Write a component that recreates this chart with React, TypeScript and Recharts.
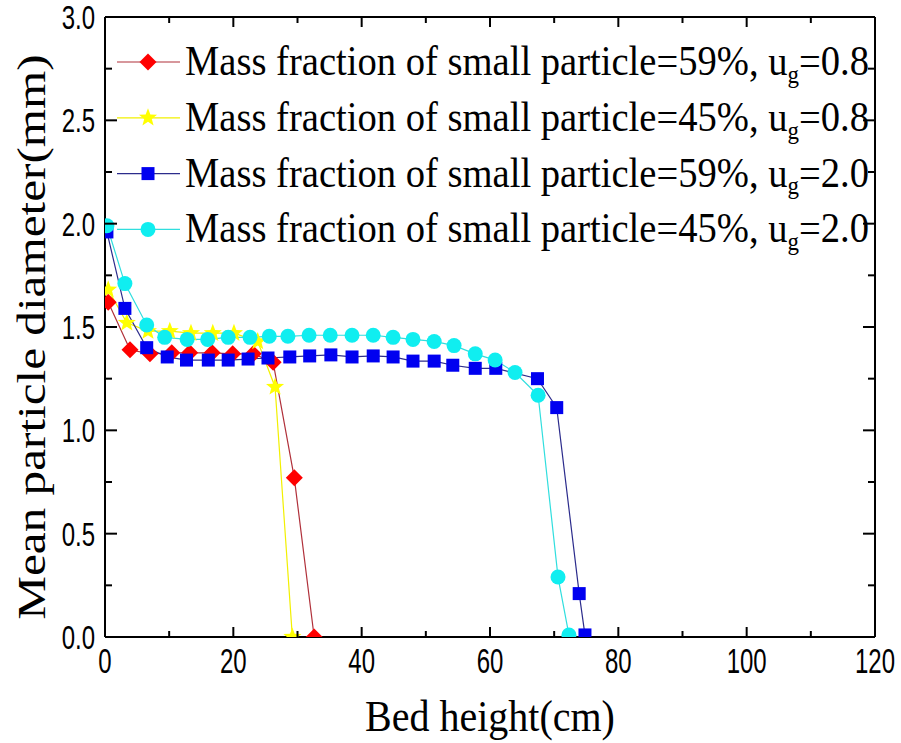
import React from "react";
import { LineChart, Line, XAxis, YAxis, Legend } from "recharts";

// bed height (cm) / mean particle diameter (mm)
const frac59Slow_x = [0.5, 3.9, 7.0, 10.4, 13.2, 16.7, 19.9, 23.1, 26.2, 29.5, 32.6];
const frac59Slow_y = [1.62, 1.39, 1.37, 1.375, 1.375, 1.375, 1.37, 1.37, 1.33, 0.77, 0.0];

const frac45Slow_x = [0.5, 3.4, 6.7, 10.1, 13.4, 16.8, 20.1, 23.8, 26.5, 29.2];
const frac45Slow_y = [1.68, 1.52, 1.48, 1.48, 1.47, 1.47, 1.47, 1.43, 1.21, 0.0];

const frac59Fast_x = [0.3, 3.1, 6.5, 9.7, 12.7, 16.1, 19.2, 22.3, 25.4, 28.8, 31.9, 35.2, 38.5, 41.8, 44.9, 48.0, 51.3, 54.2, 57.7, 60.9, 67.4, 70.4, 73.9, 74.8];
const frac59Fast_y = [1.96, 1.59, 1.4, 1.355, 1.34, 1.34, 1.34, 1.345, 1.35, 1.355, 1.36, 1.365, 1.355, 1.36, 1.355, 1.335, 1.335, 1.315, 1.3, 1.3, 1.25, 1.11, 0.21, 0.01];

const frac45Fast_x = [0.3, 3.1, 6.5, 9.3, 12.8, 16.0, 19.2, 22.6, 25.6, 28.5, 31.8, 35.1, 38.5, 41.8, 44.9, 48.0, 51.3, 54.4, 57.7, 60.8, 63.9, 67.5, 70.6, 72.3];
const frac45Fast_y = [1.99, 1.71, 1.51, 1.45, 1.44, 1.44, 1.45, 1.45, 1.455, 1.455, 1.46, 1.46, 1.46, 1.46, 1.45, 1.44, 1.43, 1.41, 1.37, 1.34, 1.28, 1.17, 0.29, 0.01];

const xTicks = [0, 10, 20, 30, 40, 50, 60, 70, 80, 90, 100, 110, 120];
const yTicks = [0, 0.25, 0.5, 0.75, 1, 1.25, 1.5, 1.75, 2, 2.25, 2.5, 2.75, 3];

const toPoints = (xs: number[], ys: number[]) => xs.map((x, i) => ({ x, y: ys[i] }));

type Shape = "diamond" | "star" | "square" | "circle";

const series = [
  { id: "a", pct: "59%", ug: "0.8", data: toPoints(frac59Slow_x, frac59Slow_y), stroke: "#b0303a", fill: "#ff0000", shape: "diamond" as Shape },
  { id: "b", pct: "45%", ug: "0.8", data: toPoints(frac45Slow_x, frac45Slow_y), stroke: "#f2f000", fill: "#ffff00", shape: "star" as Shape },
  { id: "c", pct: "59%", ug: "2.0", data: toPoints(frac59Fast_x, frac59Fast_y), stroke: "#2c2c8c", fill: "#0000f0", shape: "square" as Shape },
  { id: "d", pct: "45%", ug: "2.0", data: toPoints(frac45Fast_x, frac45Fast_y), stroke: "#30dede", fill: "#10eef0", shape: "circle" as Shape },
];

const SERIF = "'Liberation Serif', 'Times New Roman', serif";
const SANS = "'Liberation Sans', Arial, sans-serif";

function Marker({ shape, cx, cy, fill }: { shape: Shape; cx: number; cy: number; fill: string }) {
  if (shape === "diamond") {
    const r = 8.5;
    return <polygon points={`${cx},${cy - r} ${cx + r},${cy} ${cx},${cy + r} ${cx - r},${cy}`} fill={fill} />;
  }
  if (shape === "square") return <rect x={cx - 6.5} y={cy - 6.5} width={13} height={13} fill={fill} />;
  if (shape === "circle") return <circle cx={cx} cy={cy} r={7.5} fill={fill} />;
  const pts: string[] = [];
  for (let i = 0; i < 10; i++) {
    const r = i % 2 === 0 ? 9.5 : 4;
    const a = -Math.PI / 2 + (i * Math.PI) / 5;
    pts.push(`${cx + r * Math.cos(a)},${cy + r * Math.sin(a)}`);
  }
  return <polygon points={pts.join(" ")} fill={fill} />;
}

function SText({ x, y, size, family, sx = 1, sy = 1, rotate = 0, anchor = "start", children }: any) {
  return (
    <text
      transform={`translate(${x},${y}) rotate(${rotate}) scale(${sx},${sy})`}
      fontSize={size}
      fontFamily={family}
      textAnchor={anchor}
      fill="#000"
    >
      {children}
    </text>
  );
}

const BottomTick = ({ x, y, payload }: any) => {
  const major = payload.value % 20 === 0;
  return (
    <g>
      <line x1={x} y1={y} x2={x} y2={y - (major ? 10 : 6)} stroke="#000" strokeWidth={2} />
      {major && (
        <SText x={x} y={y + 36} size={30} family={SANS} sx={0.8} sy={1.15} anchor="middle">
          {payload.value}
        </SText>
      )}
    </g>
  );
};

const TopTick = ({ x, y, payload }: any) => {
  const major = payload.value % 20 === 0;
  return <line x1={x} y1={y} x2={x} y2={y + (major ? 10 : 6)} stroke="#000" strokeWidth={2} />;
};

const LeftTick = ({ x, y, payload }: any) => {
  const major = Math.abs((payload.value * 2) % 1) < 1e-6;
  return (
    <g>
      <line x1={x} y1={y} x2={x + (major ? 12 : 7)} y2={y} stroke="#000" strokeWidth={2} />
      {major && (
        <SText x={x - 10} y={y + 12} size={30} family={SANS} sx={0.8} sy={1.12} anchor="end">
          {payload.value.toFixed(1)}
        </SText>
      )}
    </g>
  );
};

const RightTick = ({ x, y, payload }: any) => {
  const major = Math.abs((payload.value * 2) % 1) < 1e-6;
  return <line x1={x} y1={y} x2={x - (major ? 12 : 7)} y2={y} stroke="#000" strokeWidth={2} />;
};

function LegendBox() {
  return (
    <svg width={901} height={260} style={{ display: "block" }}>
      {series.map((s, i) => {
        const cy = 62 + i * 55.8;
        return (
          <g key={s.id}>
            <line x1={117} y1={cy} x2={180} y2={cy} stroke={s.stroke} strokeWidth={1.2} />
            <Marker shape={s.shape} cx={148} cy={cy} fill={s.fill} />
            <SText x={185} y={cy + 13} size={38.6} family={SERIF} sy={1.1}>
              <tspan>{`Mass fraction of small particle=${s.pct}, u`}</tspan>
              <tspan fontSize={23} dy={7}>g</tspan>
              <tspan dy={-7}>{`=${s.ug}`}</tspan>
            </SText>
          </g>
        );
      })}
    </svg>
  );
}

export default function App() {
  return (
    <div style={{ position: "absolute", left: 0, top: 0, width: 901, height: 743, background: "#fff" }}>
      <LineChart width={901} height={743} margin={{ top: 7, right: 16, bottom: 76, left: 75 }}>
        <XAxis
          xAxisId={0}
          dataKey="x"
          type="number"
          domain={[0, 120]}
          ticks={xTicks}
          interval={0}
          height={30}
          tickSize={0}
          tickMargin={0}
          tickLine={false}
          axisLine={{ stroke: "#000", strokeWidth: 2 }}
          tick={BottomTick}
          allowDataOverflow
          label={{
            content: () => (
              <SText x={490} y={731} size={40} family={SERIF} sy={1.12} anchor="middle">
                Bed height(cm)
              </SText>
            ),
          }}
        />
        <XAxis
          xAxisId="top"
          orientation="top"
          dataKey="x"
          type="number"
          domain={[0, 120]}
          ticks={xTicks}
          interval={0}
          height={10}
          tickSize={0}
          tickMargin={0}
          tickLine={false}
          axisLine={{ stroke: "#000", strokeWidth: 2 }}
          tick={TopTick}
          allowDataOverflow
        />
        <YAxis
          yAxisId={0}
          type="number"
          domain={[0, 3]}
          ticks={yTicks}
          interval={0}
          width={30}
          tickSize={0}
          tickMargin={0}
          tickLine={false}
          axisLine={{ stroke: "#000", strokeWidth: 2 }}
          tick={LeftTick}
          allowDataOverflow
          label={{
            content: () => (
              <SText x={45} y={337} size={40} family={SERIF} rotate={-90} sx={1.23} anchor="middle">
                Mean particle diameter(mm)
              </SText>
            ),
          }}
        />
        <YAxis
          yAxisId="right"
          orientation="right"
          type="number"
          domain={[0, 3]}
          ticks={yTicks}
          interval={0}
          width={10}
          tickSize={0}
          tickMargin={0}
          tickLine={false}
          axisLine={{ stroke: "#000", strokeWidth: 2 }}
          tick={RightTick}
          allowDataOverflow
        />
        <Legend
          layout="horizontal"
          verticalAlign="middle"
          align="center"
          wrapperStyle={{ position: "absolute", left: 0, top: 0, width: 901, height: 260, pointerEvents: "none" }}
          content={() => <LegendBox />}
        />
        {series.map((s) => (
          <Line
            key={s.id}
            data={s.data}
            dataKey="y"
            name={`${s.pct}, ${s.ug}`}
            xAxisId={0}
            yAxisId={0}
            stroke={s.stroke}
            strokeWidth={1.2}
            isAnimationActive={false}
            dot={(p: any) => <Marker key={`${s.id}-${p.index}`} shape={s.shape} cx={p.cx} cy={p.cy} fill={s.fill} />}
            activeDot={false}
          />
        ))}
      </LineChart>
    </div>
  );
}
